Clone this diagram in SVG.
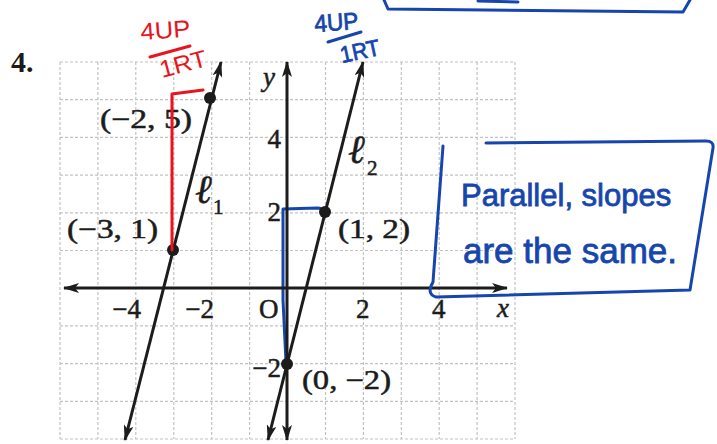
<svg xmlns="http://www.w3.org/2000/svg" width="717" height="444" viewBox="0 0 717 444">
<defs>
<style>
.grid{stroke:#c2c2c2;stroke-width:1.2;stroke-dasharray:3 2;fill:none}
.ax{stroke:#1c1c1c;stroke-width:3;fill:none}
.ln{stroke:#1c1c1c;stroke-width:3;fill:none}
.lbl{font-family:"Liberation Serif","DejaVu Serif",serif;font-size:27px;fill:#1c1c1c;stroke:#1c1c1c;stroke-width:0.5}
.it{font-style:italic}
.ell{font-size:40px}
.sub{font-size:21px}
.red{stroke:#e8141e;stroke-width:3;fill:none;stroke-linecap:round;stroke-linejoin:round}
.blue{stroke:#1646ad;stroke-width:3;fill:none;stroke-linecap:round;stroke-linejoin:round}
.rt{font-family:"Liberation Sans","DejaVu Sans",sans-serif;fill:#e8141e}
.bt{font-family:"Liberation Sans","DejaVu Sans",sans-serif;fill:#1646ad;stroke:#1646ad;stroke-width:0.8}
</style>
<marker id="ah" viewBox="0 0 16 10" refX="15" refY="5" markerWidth="16" markerHeight="10" markerUnits="userSpaceOnUse" orient="auto-start-reverse">
<path d="M0,0 L16,5 L0,10 L4,5 Z" fill="#1c1c1c"/>
</marker>
</defs>
<rect width="717" height="444" fill="#ffffff"/>

<g id="grid" class="grid">
<path d="M60,62V439M97.9,62V439M135.8,62V439M173.8,62V439M211.7,62V439M249.6,62V439M325.5,62V439M363.4,62V439M401.3,62V439M439.2,62V439M477.1,62V439M515,62V439"/>
<path d="M60,62H515M60,99.7H515M60,137.4H515M60,175.1H515M60,212.8H515M60,250.5H515M60,325.9H515M60,363.6H515M60,401.3H515M60,439H515"/>
</g>

<g id="annot-blue-under">
<path class="blue" d="M286,362 L283,300 L283,209 L317,208 Q323,208 325,213"/>
</g>

<g id="axes">
<line class="ax" x1="64" y1="288" x2="507" y2="288" marker-start="url(#ah)" marker-end="url(#ah)"/>
<line class="ax" x1="287" y1="440" x2="287" y2="62" marker-start="url(#ah)" marker-end="url(#ah)"/>
<text class="lbl it" x="263" y="86">y</text>
<text class="lbl it" x="497" y="317">x</text>
<text class="lbl" x="141" y="318" text-anchor="end">−4</text>
<text class="lbl" x="214" y="318" text-anchor="end">−2</text>
<text class="lbl" x="259" y="318">O</text>
<text class="lbl" x="356" y="318">2</text>
<text class="lbl" x="432" y="318">4</text>
<text class="lbl" x="281" y="148" text-anchor="end">4</text>
<text class="lbl" x="281" y="221" text-anchor="end">2</text>
<text class="lbl" x="281" y="377" text-anchor="end">−2</text>
</g>

<g id="line-l1">
<line class="ln" x1="125" y1="440" x2="221" y2="62" marker-start="url(#ah)" marker-end="url(#ah)"/>
<text class="lbl it ell" x="195" y="203">ℓ</text>
<text class="lbl sub" x="213" y="214">1</text>
</g>
<g id="line-l2">
<line class="ln" x1="268" y1="440" x2="363" y2="62" marker-start="url(#ah)" marker-end="url(#ah)"/>
<text class="lbl it ell" x="348" y="163">ℓ</text>
<text class="lbl sub" x="367" y="175">2</text>
</g>

<g id="point-m2-5">
<circle cx="210" cy="98" r="6" fill="#1c1c1c"/>
<text class="lbl" x="100" y="128" textLength="92" lengthAdjust="spacingAndGlyphs">(−2, 5)</text>
</g>
<g id="point-m3-1">
<circle cx="173" cy="250" r="6" fill="#1c1c1c"/>
<text class="lbl" x="67" y="238" textLength="91" lengthAdjust="spacingAndGlyphs">(−3, 1)</text>
</g>
<g id="point-1-2">
<circle cx="325" cy="212" r="6" fill="#1c1c1c"/>
<text class="lbl" x="338" y="238" textLength="72" lengthAdjust="spacingAndGlyphs">(1, 2)</text>
</g>
<g id="point-0-m2">
<circle cx="287" cy="364" r="6" fill="#1c1c1c"/>
<text class="lbl" x="302" y="389" textLength="89" lengthAdjust="spacingAndGlyphs">(0, −2)</text>
</g>

<g id="problem-number">
<text x="11" y="72" font-family="Liberation Serif, serif" font-weight="bold" font-size="30" fill="#1c1c1c">4.</text>
</g>

<g id="annot-red">
<path class="red" d="M172,250 L172,94 L203,90"/>
<text class="rt" x="141" y="40" font-size="24" textLength="50" lengthAdjust="spacingAndGlyphs" transform="rotate(-4 141 40)">4UP</text>
<path class="red" d="M150,57 L190,46"/>
<text class="rt" x="162" y="78" font-size="24" textLength="48" lengthAdjust="spacingAndGlyphs" transform="rotate(-15 162 78)">1RT</text>
</g>

<g id="annot-blue">
<text class="bt" x="315" y="32" font-size="24" textLength="44" lengthAdjust="spacingAndGlyphs" transform="rotate(-4 315 32)">4UP</text>
<path class="blue" d="M328,42 L361,32"/>
<text class="bt" x="342" y="63" font-size="23" textLength="40" lengthAdjust="spacingAndGlyphs" transform="rotate(-12 342 63)">1RT</text>
<path class="blue" d="M384,0 L388,9 L683,12 L690,0"/>
<path class="blue" d="M478,1 L518,2" stroke-width="4"/>
</g>

<g id="note-box">
<path class="blue" d="M443,146 L433,282 Q426,294 436,297 L690,290 L713,148 Q714,141 706,141 L486,143"/>
<text class="bt" x="461" y="206" font-size="31">Parallel, slopes</text>
<text class="bt" x="463" y="263" font-size="35">are the same.</text>
</g>
</svg>
